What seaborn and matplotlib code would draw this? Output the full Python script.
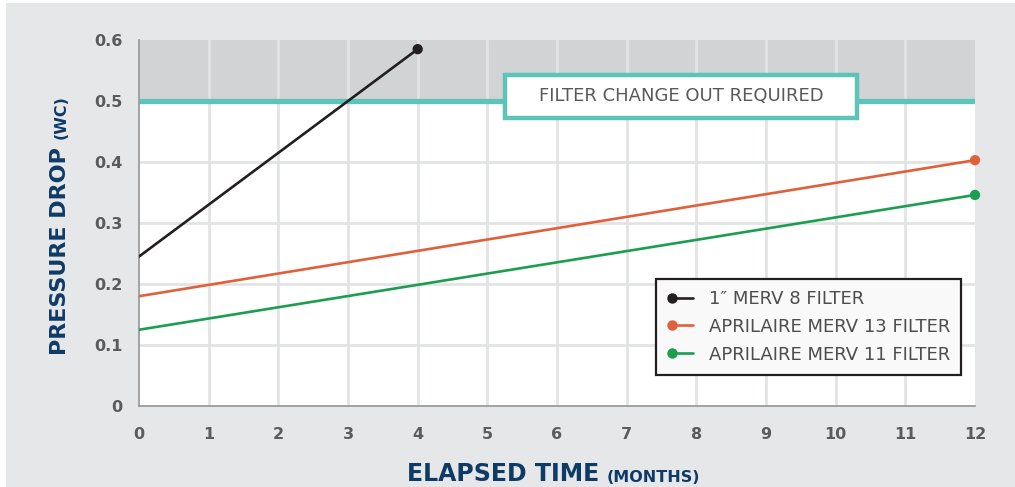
import numpy as np
import pandas as pd
import seaborn as sns
import matplotlib
matplotlib.use("Agg")
import matplotlib.pyplot as plt
from matplotlib.lines import Line2D
from matplotlib.patches import Rectangle
from matplotlib.legend_handler import HandlerLine2D

# ---- data ----
series_names = ["1″ MERV 8 FILTER", "APRILAIRE MERV 13 FILTER", "APRILAIRE MERV 11 FILTER"]
merv8_months = [0, 4]
merv8_drop = [0.245, 0.585]
merv13_months = [0, 12]
merv13_drop = [0.18, 0.403]
merv11_months = [0, 12]
merv11_drop = [0.125, 0.346]
x_ticks = list(range(0, 13))
y_ticks = [0, 0.1, 0.2, 0.3, 0.4, 0.5, 0.6]
y_tick_labels = ["0", "0.1", "0.2", "0.3", "0.4", "0.5", "0.6"]
threshold = 0.5
threshold_label = "FILTER CHANGE OUT REQUIRED"

colors = ["#231f20", "#e0603a", "#1b9e4f"]
teal = "#5cc4b9"
navy = "#0e3a66"
tick_gray = "#5a5b5d"

rows = []
for name, xs, ys in zip(series_names,
                        [merv8_months, merv13_months, merv11_months],
                        [merv8_drop, merv13_drop, merv11_drop]):
    for x, y in zip(xs, ys):
        rows.append({"month": x, "drop": y, "filter": name})
df = pd.DataFrame(rows)
ends = df.groupby("filter", sort=False).tail(1)

sns.set_style("white")
plt.rcParams["font.family"] = ["DejaVu Sans"]

fig = plt.figure(figsize=(10.15, 4.87), dpi=100, facecolor="white")
fig.patches.append(Rectangle((6 / 1015, 0), 1, 1 - 3 / 487, transform=fig.transFigure,
                             facecolor="#e6e7e9", edgecolor="none", zorder=-10))
ax = fig.add_axes([139 / 1015, 1 - 406 / 487, 836 / 1015, 366 / 487])
ax.set_facecolor("white")

ax.set_xlim(0, 12)
ax.set_ylim(0, 0.6)

# shaded zone above threshold
ax.axhspan(threshold, 0.6, facecolor="#d1d3d4", edgecolor="none", zorder=0.2)

# grid
ax.set_axisbelow(True)
ax.set_xticks(x_ticks)
ax.set_yticks(y_ticks)
ax.set_yticklabels(y_tick_labels)
ax.grid(True, color="#e2e3e4", linewidth=2)
for gl, v in zip(ax.get_ygridlines(), y_ticks):
    if v in (0, 0.6):
        gl.set_visible(False)
for gl, v in zip(ax.get_xgridlines(), x_ticks):
    if v in (0, 12):
        gl.set_visible(False)

# threshold line
ax.axhline(threshold, color=teal, linewidth=3.8, zorder=2)

palette = dict(zip(series_names, colors))
sns.lineplot(data=df, x="month", y="drop", hue="filter", palette=palette,
             linewidth=1.9, legend=False, ax=ax, zorder=3)
sns.scatterplot(data=ends, x="month", y="drop", hue="filter", palette=palette,
                s=55, linewidth=0, legend=False, ax=ax, zorder=4, clip_on=False)

# threshold label box
ax.add_patch(Rectangle((5.254, 0.472), 5.052, 0.0706, facecolor="white",
                       edgecolor=teal, linewidth=3.2, zorder=5))
ax.text(7.78, 0.5075, threshold_label, ha="center", va="center", fontsize=13,
        color="#58595b", zorder=6)

# spines & ticks
sns.despine(ax=ax)
for s in ("left", "bottom"):
    ax.spines[s].set_color("#9b9c9e")
    ax.spines[s].set_linewidth(1.3)
ax.tick_params(axis="both", length=0, labelsize=11.5, labelcolor=tick_gray)
ax.tick_params(axis="y", pad=12)
ax.tick_params(axis="x", pad=15)
for lab in ax.get_xticklabels() + ax.get_yticklabels():
    lab.set_fontweight("bold")
ax.set_xticks([12], minor=True)
ax.set_yticks([0.6], minor=True)
ax.tick_params(which="minor", length=5, width=1.2, color="#9b9c9e", direction="inout")
ax.set_xlabel("")
ax.set_ylabel("")

# legend with marker at left end of handle
class LeftMarker(HandlerLine2D):
    def create_artists(self, legend, orig_handle, xdescent, ydescent, width, height,
                       fontsize, trans):
        arts = super().create_artists(legend, orig_handle, xdescent, ydescent, width,
                                      height, fontsize, trans)
        for a in arts:
            a.set_markevery([0])
        return arts

handles = [Line2D([0, 1], [0, 0], color=c, linewidth=1.9, marker="o", markersize=7.5,
                  markeredgewidth=0) for c in colors]
leg = ax.legend(handles, series_names, loc="upper right", bbox_to_anchor=(0.983, 0.347),
                borderaxespad=0, frameon=True, fancybox=False, fontsize=13,
                handlelength=1.75, handletextpad=0.55, labelspacing=0.55, numpoints=2,
                borderpad=0.6, handler_map={Line2D: LeftMarker()})
leg.get_frame().set_facecolor("#f9f9f9")
leg.get_frame().set_edgecolor("#231f20")
leg.get_frame().set_linewidth(1.6)
leg.get_frame().set_alpha(1)
leg.set_zorder(10)
for t in leg.get_texts():
    t.set_color("#4d4d4f")

# axis titles
t1 = fig.text(66 / 1015, 1 - 355 / 487, "PRESSURE DROP", rotation=90, rotation_mode="anchor",
              ha="left", va="baseline", fontsize=16, fontweight="bold", color=navy)
ax.annotate("(WC)", xy=(1, 1), xycoords=t1, xytext=(-1, 6), textcoords="offset points",
            rotation=90, ha="right", va="bottom", fontsize=11.5, fontweight="bold", color=navy)
t2 = fig.text(407 / 1015, 1 - 481 / 487, "ELAPSED TIME", ha="left", va="baseline",
              fontsize=17, fontweight="bold", color=navy)
ax.annotate("(MONTHS)", xy=(1, 0), xycoords=t2, xytext=(5, 1), textcoords="offset points",
            ha="left", va="bottom", fontsize=11.5, fontweight="bold", color=navy)

fig.savefig("out.png", dpi=100, facecolor=fig.get_facecolor())
